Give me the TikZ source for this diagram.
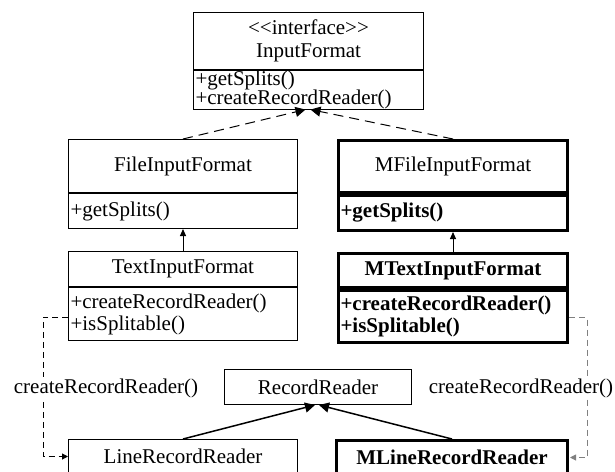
\documentclass[tikz,border=0pt]{standalone}
\usepackage{fontspec}
\setmainfont{Liberation Serif}
\usetikzlibrary{arrows.meta, positioning}
\definecolor{cgrey}{HTML}{808080}
\tikzset{
  every picture/.style={x=1pt, y=-1pt, line width=1pt},
  cls/.style={draw, rectangle, inner sep=2pt, minimum width=229pt, font=\fontsize{21}{22}\selectfont},
  head/.style={cls, align=center, anchor=north west},
  body/.style={cls, align=left, text width=225pt, anchor=north west},
  mine/.style={line width=3pt, font=\fontsize{21}{22}\selectfont\bfseries},
  real/.style={-{Triangle[length=10pt, width=10pt]}, dash pattern=on 10pt off 6pt},
  inherit/.style={-{Triangle[length=7pt, width=6pt]}},
  uses/.style={-{Triangle[length=10pt, width=10pt]}, line width=1.5pt},
  dep/.style={-{Triangle[length=6pt, width=6pt]}, dash pattern=on 6pt off 4pt},
  lbl/.style={fill=white, inner sep=1pt, font=\fontsize{21}{22}\selectfont},
}
\begin{document}
\begin{tikzpicture}
  \clip (0,0) rectangle (615,471);
  % interface
  \node[head, minimum width=230pt, minimum height=57pt] (inf) at (193,12) {\textless{}\textless{}interface\textgreater{}\textgreater{}\\[1pt]InputFormat};
  \node[body, minimum width=230pt, text width=226pt, minimum height=37pt, inner ysep=0pt] (infm) at (inf.south west) {+getSplits()\\[-2.5pt]+createRecordReader()};
  % hadoop classes
  \node[head, minimum height=53pt] (fif) at (68,139) {FileInputFormat};
  \node[body, minimum height=35pt] (fifm) at (fif.south west) {+getSplits()};
  \node[head, minimum height=35pt] (tif) at (68,251) {TextInputFormat};
  \node[body, minimum height=53pt] (tifm) at (tif.south west) {+createRecordReader()\\+isSplitable()};
  % modified classes
  \node[head, mine, minimum height=52pt] (mfif) at (337,139) {\mdseries MFileInputFormat};
  \node[body, mine, minimum height=35pt] (mfifm) at (mfif.south west) {+getSplits()};
  \node[head, mine, minimum height=34pt] (mtif) at (337,252) {MTextInputFormat};
  \node[body, mine, minimum height=52pt] (mtifm) at (mtif.south west) {+createRecordReader()\\+isSplitable()};
  % readers
  \node[head, minimum width=187pt, minimum height=35pt] (rr) at (224,369) {RecordReader};
  \node[head, minimum height=34pt] (lrr) at (68,439) {LineRecordReader};
  \node[head, mine, minimum height=34pt, minimum width=231pt] (mlrr) at (335,439) {MLineRecordReader};
  % connectors
  \draw[real] (fif.north) -- ([xshift=-3pt]infm.south);
  \draw[real] (mfif.north) -- ([xshift=2pt]infm.south);
  \draw[inherit] (tif.north) -- (fifm.south);
  \draw[inherit] (mtif.north) -- (mfifm.south);
  \draw[uses] (lrr.north) -- ([xshift=-3pt]rr.south);
  \draw[uses] (mlrr.north) -- ([xshift=1pt]rr.south);
  \draw[dep] ([yshift=-3pt]tifm.west) -- ++(-25,0) |- (lrr.west);
  \draw[dep, cgrey] ([yshift=-1pt]mtifm.east) -- ++(18,0) |- ([xshift=1pt]mlrr.east);
  \node[lbl] (ldep) at (106,388) {createRecordReader()};
  \node[lbl] (rdep) at (521,388) {createRecordReader()};
\end{tikzpicture}
\end{document}
